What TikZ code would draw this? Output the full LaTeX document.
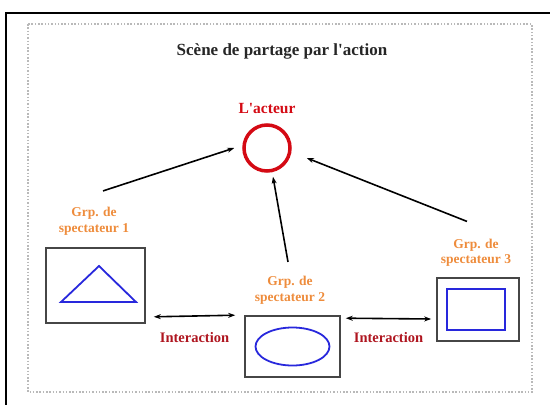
\documentclass[tikz,border=0pt]{standalone}
\usepackage{fontspec}
\setmainfont{Liberation Serif}
\usetikzlibrary{arrows.meta,
                positioning}
\definecolor{grporange}{RGB}{238,140,60}
\definecolor{iared}{RGB}{175,22,32}
\definecolor{actred}{RGB}{212,10,20}
\definecolor{shapeblue}{RGB}{40,40,220}
\definecolor{framegray}{RGB}{70,70,70}

\begin{document}
\begin{tikzpicture}[
x=1pt, y=-1pt,
   box/.style = {rectangle, draw=framegray, line width=1.6pt},
   grp/.style = {text=grporange, align=center, inner sep=1pt,
                 font=\bfseries\fontsize{13.5}{15.5}\selectfont},
    ia/.style = {text=iared, inner sep=1pt,
                 font=\bfseries\fontsize{14.5}{16}\selectfont},
   arr/.style = {line width=1.6pt, -{Stealth[length=7pt,width=5pt]}},
  iarr/.style = {line width=1.6pt, {Stealth[length=7pt,width=5pt]}-{Stealth[length=7pt,width=5pt]}},
figline/.style = {draw=shapeblue, line width=1.8pt},
                        ]
\useasboundingbox (0,0) rectangle (550,405);
% frames
\draw[line width=2pt] (6,405) -- (6,13) -- (550,13);
\draw[gray!55, line width=1.3pt, dash pattern=on 1.5pt off 1.8pt] (28,24) rectangle (532,392);

\node[text=black!85, font=\bfseries\fontsize{17}{20}\selectfont] (title) at (282,51) {Scène de partage par l\textquotesingle action};

% actor
\node[circle, draw=actred, line width=3.5pt, minimum size=46pt] (actor) at (267,148) {};
\node[text=actred, font=\bfseries\fontsize{15.5}{18}\selectfont] (actlbl) at (267,109) {L\textquotesingle acteur};

% groups
\node[box, minimum width=99pt, minimum height=75pt] (box1) at (95.5,285.5) {};
\node[box, minimum width=95pt, minimum height=61pt] (box2) at (292.5,346.5) {};
\node[box, minimum width=82pt, minimum height=63pt] (box3) at (478,309.5) {};

\foreach \n/\x/\y in {1/94/221, 2/290/290, 3/476/252.5}
    \node[grp] (lbl\n) at (\x,\y) {Grp. de\\spectateur \n};

\draw[figline, shift={(box1.center)}] (3.5,-19.5) -- (-34.5,16.5) -- (40.5,16.5) -- cycle;
\draw[figline] (box2.center) ellipse [x radius=37, y radius=19];
\draw[figline, shift={(box3.center)}] (-31,-20.5) rectangle (27,20.5);

% arrows towards the actor
\draw[arr] ([xshift=9,yshift=15]lbl1.north) -- ([xshift=-8]actor.west);
\draw[arr] ([xshift=-2,yshift=13]lbl2.north) -- ([xshift=6,yshift=-4]actor.south);
\draw[arr] ([xshift=-9,yshift=16]lbl3.north) -- ([xshift=15,yshift=-10]actor.east);

% interactions
\draw[iarr] ([xshift=8,yshift=7]box1.south east) -- node[ia, below=15pt] (ia1) {Interaction}
            ([xshift=-9]box2.north west);
\draw[iarr] ([xshift=5,yshift=-3]box2.north east) -- node[ia, below=12pt] (ia2) {Interaction}
            ([xshift=-5,yshift=-9.5]box3.west);
\end{tikzpicture}
\end{document}
